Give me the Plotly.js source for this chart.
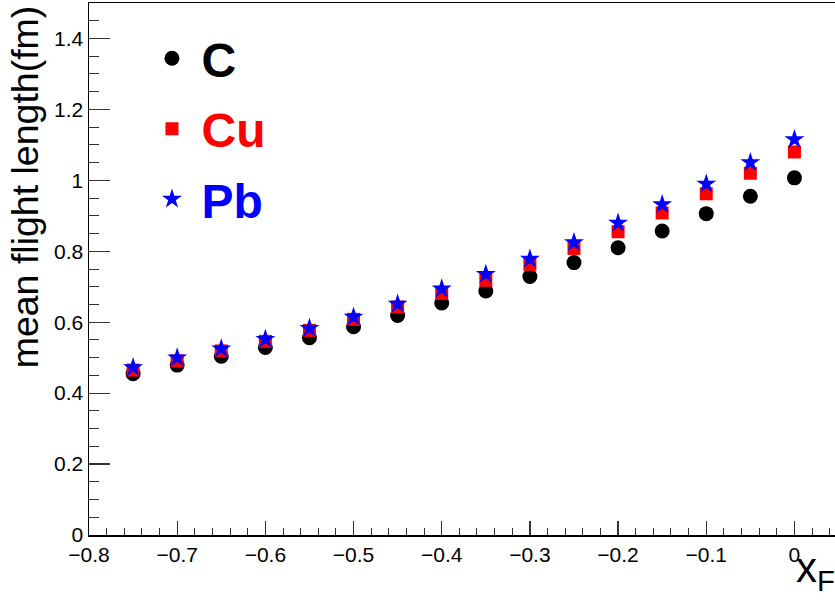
<!DOCTYPE html>
<html>
<head>
<meta charset="utf-8">
<script src="https://cdn.plot.ly/plotly-3.0.1.min.js"></script>
<style>html,body{margin:0;padding:0;overflow:hidden;background:#fff}</style>
</head>
<body>
<div id="chart" style="width:835px;height:601px"></div>
<script>
const xF = [-0.75,-0.70,-0.65,-0.60,-0.55,-0.50,-0.45,-0.40,-0.35,-0.30,-0.25,-0.20,-0.15,-0.10,-0.05,0.0];
const valC  = [0.455,0.479,0.504,0.529,0.556,0.587,0.619,0.654,0.688,0.729,0.768,0.810,0.857,0.906,0.955,1.007];
const valCu = [0.465,0.491,0.519,0.546,0.577,0.608,0.643,0.681,0.718,0.763,0.808,0.855,0.908,0.962,1.020,1.080];
const valPb = [0.472,0.500,0.525,0.552,0.583,0.615,0.651,0.694,0.735,0.778,0.825,0.880,0.932,0.990,1.050,1.115];
const seriesNames = ['C','Cu','Pb'];
const yTitle = 'mean flight length(fm)';
const xTitle = 'x<sub>F</sub>';

const FONT = 'Liberation Sans, Arial, Helvetica, sans-serif';
const SP = '\u2009';
const traces = [
  {x:xF, y:valC, mode:'markers', type:'scatter', legendgroup:'a',
   name:'<b><span style="color:#000000">'+SP+seriesNames[0]+'</span></b>',
   marker:{symbol:'circle', size:15, color:'#000000'}},
  {x:xF, y:valCu, mode:'markers', type:'scatter', legendgroup:'b',
   name:'<b><span style="color:#ff0000">'+SP+seriesNames[1]+'</span></b>',
   marker:{symbol:'square', size:13, color:'#ff0000'}},
  {x:xF, y:valPb, mode:'markers', type:'scatter', legendgroup:'c',
   name:'<b><span style="color:#0000ff">'+SP+seriesNames[2]+'</span></b>',
   marker:{symbol:'star', size:15, color:'#0000ff'}}
];
const layout = {
  width:835, height:601,
  margin:{l:89, r:0, t:3, b:66},
  paper_bgcolor:'#ffffff', plot_bgcolor:'#ffffff',
  font:{family:FONT, color:'#000000'},
  showlegend:true,
  legend:{x:0.0844, xanchor:'left', y:0.967, yanchor:'top', font:{family:FONT, size:48},
          tracegroupgap:5, bgcolor:'rgba(0,0,0,0)', itemsizing:'trace'},
  xaxis:{range:[-0.8,0.046], dtick:0.1, tick0:0, ticks:'inside', ticklen:14, tickwidth:1.2,
         tickcolor:'#333', showline:true, linecolor:'#000', linewidth:1.5, mirror:true,
         showgrid:false, zeroline:false, tickfont:{size:21, family:FONT},
         minor:{dtick:0.02, ticks:'inside', ticklen:7, tickwidth:1, tickcolor:'#333', showgrid:false}},
  yaxis:{range:[0,1.5], dtick:0.2, tick0:0, ticks:'inside', ticklen:21, tickwidth:1.2,
         tickcolor:'#333', showline:true, linecolor:'#000', linewidth:1.5,
         showgrid:false, zeroline:false, tickfont:{size:21, family:FONT},
         minor:{dtick:0.05, ticks:'inside', ticklen:10, tickwidth:1, tickcolor:'#333', showgrid:false}},
  annotations:[
    {text:yTitle, textangle:-90, xref:'paper', yref:'paper', x:-0.086, y:1.0,
     xanchor:'center', yanchor:'top', showarrow:false, font:{size:37.5, family:FONT}},
    {text:xTitle, xref:'paper', yref:'paper', x:0.945, y:-0.014,
     xanchor:'left', yanchor:'top', showarrow:false, font:{size:42, family:FONT}}
  ]
};
Plotly.newPlot('chart', traces, layout, {displayModeBar:false, staticPlot:true});
</script>
</body>
</html>
